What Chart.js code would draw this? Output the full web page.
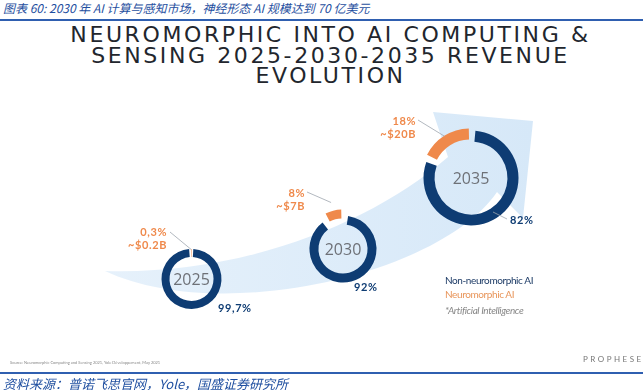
<!DOCTYPE html>
<html>
<head>
<meta charset="utf-8">
<script src="https://cdn.jsdelivr.net/npm/chart.js@4.4.1/dist/chart.umd.min.js"></script>
<style>
    html, body { margin: 0; padding: 0; background: #fff; }
    #page { position: relative; width: 643px; height: 390px; overflow: hidden; font-family: Lato, sans-serif; }
    .layer { position: absolute; left: 0; top: 0; }
    .abs { position: absolute; white-space: nowrap; }
    #caption { left: 3px; top: -1px; font: italic 12px "Noto Sans CJK SC", sans-serif; color: #1f4fa0; }
    #topRule { left: 0; top: 19px; width: 643px; height: 2px; background: #2f5fb0; }
    #title { left: 9px; top: 25px; width: 643px; text-align: center; font: 22px "DejaVu Sans", sans-serif;
             letter-spacing: 2.6px; line-height: 20.5px; color: #22262d; }
    .legend { left: 445px; font-size: 10px; letter-spacing: -0.4px; }
    #source { left: 10px; top: 360px; font-size: 4px; color: #888; }
    #brand { left: 583px; top: 354px; font-size: 8px; letter-spacing: 2.5px; color: #777; }
    #bottomRule { left: 0; top: 372px; width: 643px; height: 2px; background: #2f5fb0; }
    #footer { left: 3px; top: 374px; font: italic 13px "Noto Sans CJK SC", sans-serif; color: #1f4fa0; }
</style>
</head>
<body>
<div id="page">
    <div id="caption" class="abs">图表 60:  2030 年 AI 计算与感知市场，神经形态 AI 规模达到 70 亿美元</div>
    <div id="topRule" class="abs"></div>
    <div id="title" class="abs">NEUROMORPHIC INTO AI COMPUTING &amp;<br>SENSING 2025-2030-2035 REVENUE<br>EVOLUTION</div>

    <svg class="layer" width="643" height="390">
        <defs>
            <linearGradient id="arrowFill" x1="0" y1="0" x2="1" y2="0">
                <stop offset="0" stop-color="#e6f1fb"/>
                <stop offset="1" stop-color="#d6e8f8"/>
            </linearGradient>
        </defs>
        <path d="M105 271 C240 275 370 225 448 157 L433 112 L533 121 L523 218 L497 192 C440 275 220 325 105 271 Z"
              fill="url(#arrowFill)"/>
    </svg>

    <canvas id="ring0" class="layer" width="643" height="390"></canvas>
    <canvas id="ring1" class="layer" width="643" height="390"></canvas>
    <canvas id="ring2" class="layer" width="643" height="390"></canvas>

    <div id="legendNon" class="abs legend" style="top:274px;color:#1d3b66"></div>
    <div id="legendNeuro" class="abs legend" style="top:288px;color:#e8955a"></div>
    <div class="abs legend" style="top:304px;color:#888;font-style:italic">*Artificial Intelligence</div>

    <div id="source" class="abs">Source: Neuromorphic Computing and Sensing 2021, Yole Développement, May 2021</div>
    <div id="brand" class="abs">PROPHESEE</div>
    <div id="bottomRule" class="abs"></div>
    <div id="footer" class="abs">资料来源：普诺飞思官网，Yole，国盛证券研究所</div>
</div>

<script>
const years = ['2025', '2030', '2035'];
const nonNeuromorphicShare = [99.7, 92, 82];
const neuromorphicShare = [0.3, 8, 18];
const nonNeuromorphicLabels = ['99,7%', '92%', '82%'];
const neuromorphicLabels = ['0,3%', '8%', '18%'];
const neuromorphicRevenue = ['~$0.2B', '~$7B', '~$20B'];
const seriesNames = ['Non-neuromorphic AI', 'Neuromorphic AI'];

const NAVY = '#0e3c73';
const ORANGE = '#ef894b';
const W = 643, H = 390;

// where each ring sits on the page and where its labels go
const ringLayout = [
    { cx: 191.5, cy: 279, r: 29.5, cutout: '73%', offset: 0, spacing: 1,
      neuroAt: [167, 232], nonAt: [218, 308], leaderFrom: [170, 232], anchor: 'outer' },
    { cx: 343, cy: 249, r: 32, cutout: '72%', offset: 16, spacing: 3,
      neuroAt: [305, 193], nonAt: [354, 287], leaderFrom: [307, 192], anchor: 'outer' },
    { cx: 471, cy: 178, r: 46, cutout: '76%', offset: 9, spacing: 3,
      neuroAt: [416, 121], nonAt: [510, 220], leaderFrom: [418, 120], anchor: 'mid',
      nonLeader: [[493, 212], [507, 219]] }
];

document.getElementById('legendNon').textContent = seriesNames[0];
document.getElementById('legendNeuro').textContent = seriesNames[1];

const ringText = {
    id: 'ringText',
    afterDatasetsDraw(chart, args, opts) {
        const L = ringLayout[opts.index];
        const ctx = chart.ctx;
        const arc = chart.getDatasetMeta(0).data[1];
        const { x, y, startAngle, endAngle, innerRadius, outerRadius } =
            arc.getProps(['x', 'y', 'startAngle', 'endAngle', 'innerRadius', 'outerRadius'], true);
        const mid = (startAngle + endAngle) / 2;
        const rr = (L.anchor === 'mid' ? (innerRadius + outerRadius) / 2 : outerRadius) + L.offset;

        ctx.save();
        ctx.strokeStyle = '#9ea6ae';
        ctx.lineWidth = 0.8;
        ctx.beginPath();
        ctx.moveTo(L.leaderFrom[0], L.leaderFrom[1]);
        ctx.lineTo(x + Math.cos(mid) * rr, y + Math.sin(mid) * rr);
        if (L.nonLeader) {
            ctx.moveTo(L.nonLeader[0][0], L.nonLeader[0][1]);
            ctx.lineTo(L.nonLeader[1][0], L.nonLeader[1][1]);
        }
        ctx.stroke();

        ctx.fillStyle = '#6e7177';
        ctx.font = '16px "Open Sans"';
        ctx.textAlign = 'center';
        ctx.textBaseline = 'middle';
        ctx.fillText(years[opts.index], x, y + 1);

        ctx.font = 'bold 11px Lato';
        ctx.letterSpacing = '0.6px';
        ctx.fillStyle = ORANGE;
        ctx.textAlign = 'right';
        ctx.fillText(neuromorphicLabels[opts.index], L.neuroAt[0], L.neuroAt[1]);
        ctx.fillText(neuromorphicRevenue[opts.index], L.neuroAt[0], L.neuroAt[1] + 13);

        ctx.fillStyle = NAVY;
        ctx.textAlign = 'left';
        ctx.fillText(nonNeuromorphicLabels[opts.index], L.nonAt[0], L.nonAt[1]);
        ctx.restore();
    }
};

years.forEach((year, i) => {
    const L = ringLayout[i];
    const s = Math.min(L.cx, W - L.cx, L.cy, H - L.cy) - 1;
    new Chart(document.getElementById('ring' + i), {
        type: 'doughnut',
        data: {
            labels: seriesNames,
            datasets: [{
                data: [nonNeuromorphicShare[i], neuromorphicShare[i]],
                backgroundColor: [NAVY, ORANGE],
                borderWidth: 0,
                offset: [0, L.offset],
                spacing: L.spacing,
                radius: L.r,
                cutout: L.cutout
            }]
        },
        options: {
            responsive: false,
            animation: false,
            devicePixelRatio: 1,
            layout: {
                padding: { left: L.cx - s, right: W - L.cx - s, top: L.cy - s, bottom: H - L.cy - s }
            },
            plugins: {
                legend: { display: false },
                tooltip: { enabled: false },
                ringText: { index: i }
            }
        },
        plugins: [ringText]
    });
});
</script>
</body>
</html>
